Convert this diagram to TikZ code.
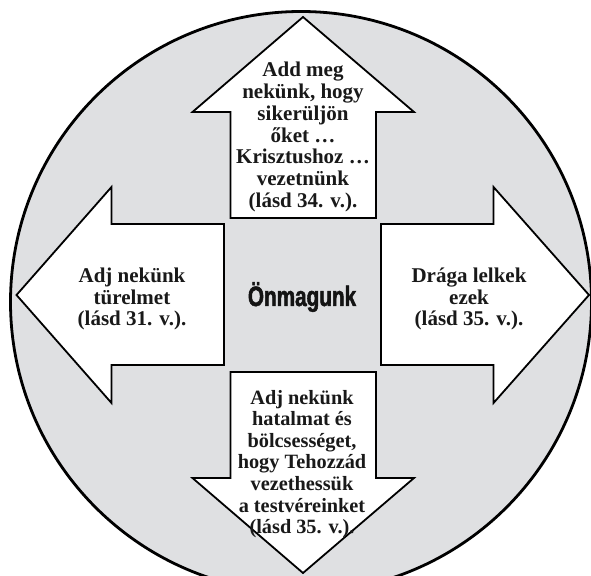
\documentclass[tikz,border=0pt]{standalone}
\usepackage{fontspec}
\setmainfont{Liberation Serif}
\newfontfamily\condsans[FakeStretch=0.74, FakeBold=1.8]{Liberation Sans Bold}
\definecolor{bggray}{HTML}{DFE0E2}
\tikzset{
  arrowshape/.style={draw=black, fill=white, line width=1.8pt, line join=miter},
  armtext/.style={align=center, font=\fontsize{21}{21.8}\bfseries\selectfont, inner sep=0pt, text=black!90},
  smallarmtext/.style={armtext, font=\fontsize{20.3}{21.6}\bfseries\selectfont},
  centertext/.style={inner sep=0pt, font=\condsans\fontsize{28}{30}\selectfont, text=black!92}
}
\begin{document}
\begin{tikzpicture}[x=1pt,y=-1pt]
\useasboundingbox (0,0) rectangle (591,575);
\clip (0,0) rectangle (591,575);
% circle
\draw[line width=2.8pt, fill=bggray] (301,302) circle[radius=290.5];
% up arrow
\draw[arrowshape] (303,17) -- (414,112) -- (376,112) -- (376,218) -- (230.5,218) -- (230.5,112) -- (192.5,112) -- cycle;
% down arrow
\draw[arrowshape] (303,573) -- (414,478) -- (376,478) -- (376,372) -- (230.5,372) -- (230.5,478) -- (192.5,478) -- cycle;
% left arrow
\draw[arrowshape] (16.5,295) -- (111.5,187) -- (111.5,224) -- (224,224) -- (224,365) -- (111.5,365) -- (111.5,403) -- cycle;
% right arrow
\draw[arrowshape] (589,295) -- (493.5,187) -- (493.5,224) -- (381,224) -- (381,365) -- (493.5,365) -- (493.5,403) -- cycle;
% texts
\node[armtext] (up) at (303,137) {Add meg\\nekünk, hogy\\sikerüljön\\őket …\\Krisztushoz …\\vezetnünk\\(lásd 34. v.).};
\node[smallarmtext] (down) at (302,464) {Adj nekünk\\hatalmat és\\bölcsességet,\\hogy Tehozzád\\vezethessük\\a testvéreinket\\(lásd 35. v.).};
\node[armtext] (left) at (132,299) {Adj nekünk\\türelmet\\(lásd 31. v.).};
\node[armtext] (right) at (469,299) {Drága lelkek\\ezek\\(lásd 35. v.).};
\node[centertext] (center) at (302,297) {Önmagunk};
\end{tikzpicture}
\end{document}
